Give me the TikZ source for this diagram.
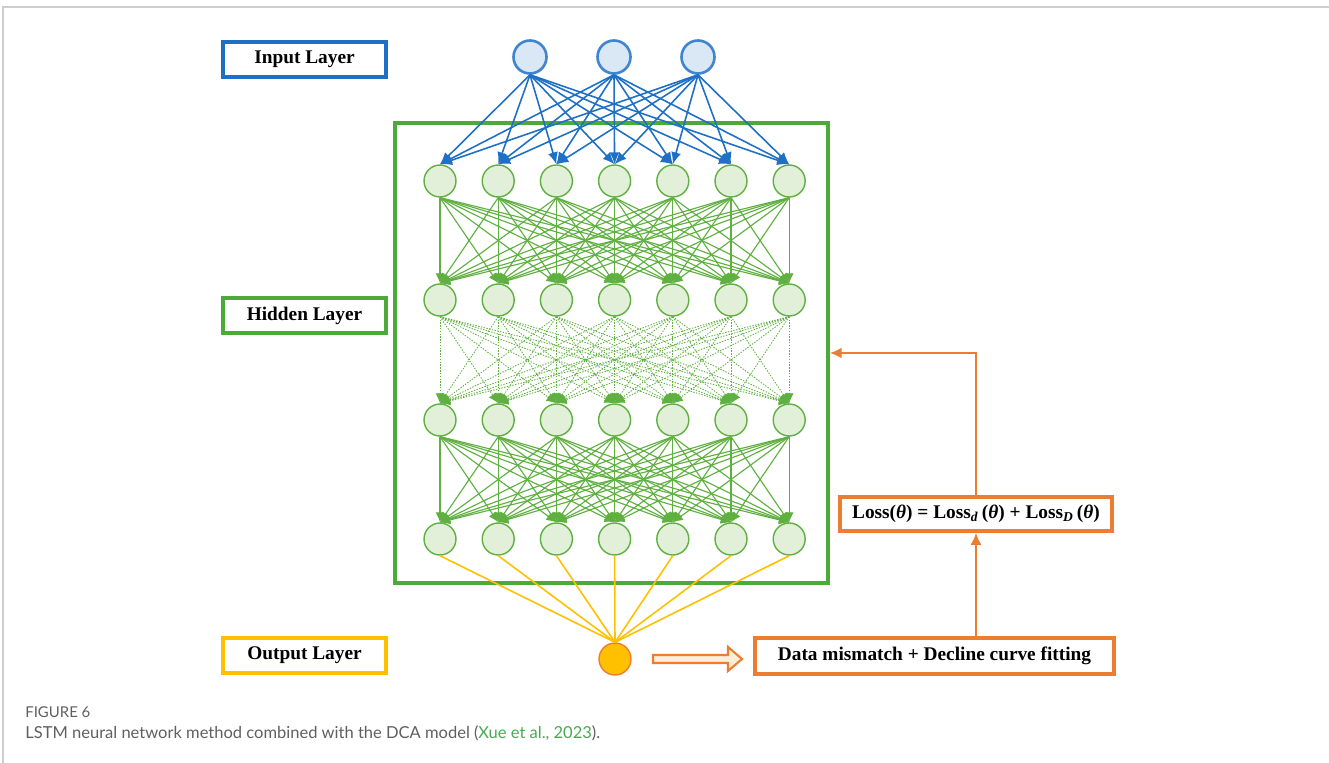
\documentclass[tikz,border=0pt]{standalone}
\usepackage{fontspec}
\setmainfont{Liberation Serif}
\newfontfamily\capfont{Lato}
\usetikzlibrary{arrows.meta,positioning}

\definecolor{inblue}{RGB}{30,112,196}
\definecolor{infill}{RGB}{218,232,246}
\definecolor{hidgreen}{RGB}{76,170,56}
\definecolor{hidline}{RGB}{95,176,65}
\definecolor{hidfill}{RGB}{226,240,217}
\definecolor{outgold}{RGB}{255,192,0}
\definecolor{outorange}{RGB}{237,125,49}
\definecolor{arrowcream}{RGB}{252,238,215}
\definecolor{capgray}{RGB}{95,95,95}
\definecolor{linkgreen}{RGB}{70,170,80}
\definecolor{framegray}{RGB}{205,205,205}

\begin{document}
\begin{tikzpicture}[x=0.02cm,y=-0.02cm,
    %Boxes on the left naming the layers
    layerbox/.style={draw, line width=2pt, fill=white, minimum width=3.26cm,
        minimum height=0.7cm, inner sep=0pt, font=\bfseries\fontsize{11}{13}\selectfont},
    %Neurons
    innode/.style={circle, draw=inblue!85, fill=infill, line width=1.5pt,
        minimum size=0.66cm, inner sep=0pt},
    hidnode/.style={circle, draw=hidline, fill=hidfill, line width=0.8pt,
        minimum size=0.64cm, inner sep=0pt},
    outnode/.style={circle, draw=outorange, fill=outgold, line width=0.8pt,
        minimum size=0.64cm, inner sep=0pt},
    %Connections
    inedge/.style={draw=inblue, line width=0.9pt, -{Latex[length=2.4mm,width=2mm]}},
    hidedge/.style={draw=hidline, line width=0.65pt, -{Latex[length=2mm,width=1.8mm]}},
    hiddot/.style={draw=hidline, line width=0.5pt, dash pattern=on 0.8pt off 0.8pt,
        -{Latex[length=2mm,width=1.8mm]}},
    outedge/.style={draw=outgold, line width=0.9pt},
    %Loss part on the right
    lossbox/.style={draw=outorange, line width=2pt, fill=white, inner sep=0pt,
        font=\bfseries\fontsize{11}{13}\selectfont},
    lossedge/.style={draw=outorange, line width=1.3pt, -{Latex[length=2.4mm,width=2.2mm]}}
    ]
\useasboundingbox (0,0) rectangle (1329,763);
\draw[framegray, line width=0.6pt] (3,763) -- (3,7) -- (1329,7);

%Layer names
\node (inlabel) [layerbox, draw=inblue] at (304.5,59.5) {Input Layer};
\node (hidlabel) [layerbox, draw=hidgreen] at (304.5,315.5) {Hidden Layer};
\node (outlabel) [layerbox, draw=outgold] at (304.5,655.5) {Output Layer};

%Frame round the hidden layers
\node (hidbox) [draw=hidgreen, line width=2pt, minimum width=8.66cm,
    minimum height=9.2cm, inner sep=0pt] at (611.5,353) {};

%Neurons
\foreach \i in {1,2,3}
    \node (in\i) [innode] at ({446+84*\i},57) {};
\foreach \r/\y in {1/181,2/300,3/420,4/539}
    \foreach \c in {1,...,7}
        \node (h\r-\c) [hidnode] at ({440+58.2*(\c-1)},\y) {};
\node (out) [outnode] at (615,659) {};

%Connections between the layers
\foreach \i in {1,2,3}
    \foreach \c in {1,...,7}
        \draw[inedge] (in\i.south) -- (h1-\c.north);
\foreach \a in {1,...,7}
    \foreach \b in {1,...,7} {
        \draw[hidedge] (h1-\a.south) -- (h2-\b.north);
        \draw[hiddot] (h2-\a.south) -- (h3-\b.north);
        \draw[hidedge] (h3-\a.south) -- (h4-\b.north);
    }
\foreach \c in {1,...,7}
    \draw[outedge] (h4-\c.south) -- (out.north);

%Loss function and fitting
\node (fitbox) [lossbox, minimum width=7.18cm, minimum height=0.72cm] at (934.5,656)
    {Data mismatch + Decline curve fitting};
\node (lossfn) [lossbox, minimum width=5.44cm, minimum height=0.68cm] at (976,514)
    {Loss(\textit{θ}) = Loss\textsubscript{\textit{d}}\,(\textit{θ}) + Loss\textsubscript{\textit{D}}\,(\textit{θ})};
\draw[outorange, fill=arrowcream, line width=1.2pt]
    (653,655) -- (728,655) -- (728,647) -- (742,659) -- (728,671) -- (728,663) -- (653,663) -- cycle;
\draw[lossedge] (fitbox.north -| lossfn.south) -- (lossfn.south);
\draw[lossedge] (lossfn.north) |- (hidbox.east);

%Caption
\node (figno) [anchor=base west, inner sep=0pt, text=capgray,
    font=\capfont\fontsize{8.5}{10}\selectfont] at (25,717) {FIGURE 6};
\node (figtext) [anchor=base west, inner sep=0pt, text=capgray,
    font=\capfont\fontsize{9.4}{11}\selectfont] at (25,738)
    {LSTM neural network method combined with the DCA model (\textcolor{linkgreen}{Xue et al., 2023}).};
\end{tikzpicture}
\end{document}
